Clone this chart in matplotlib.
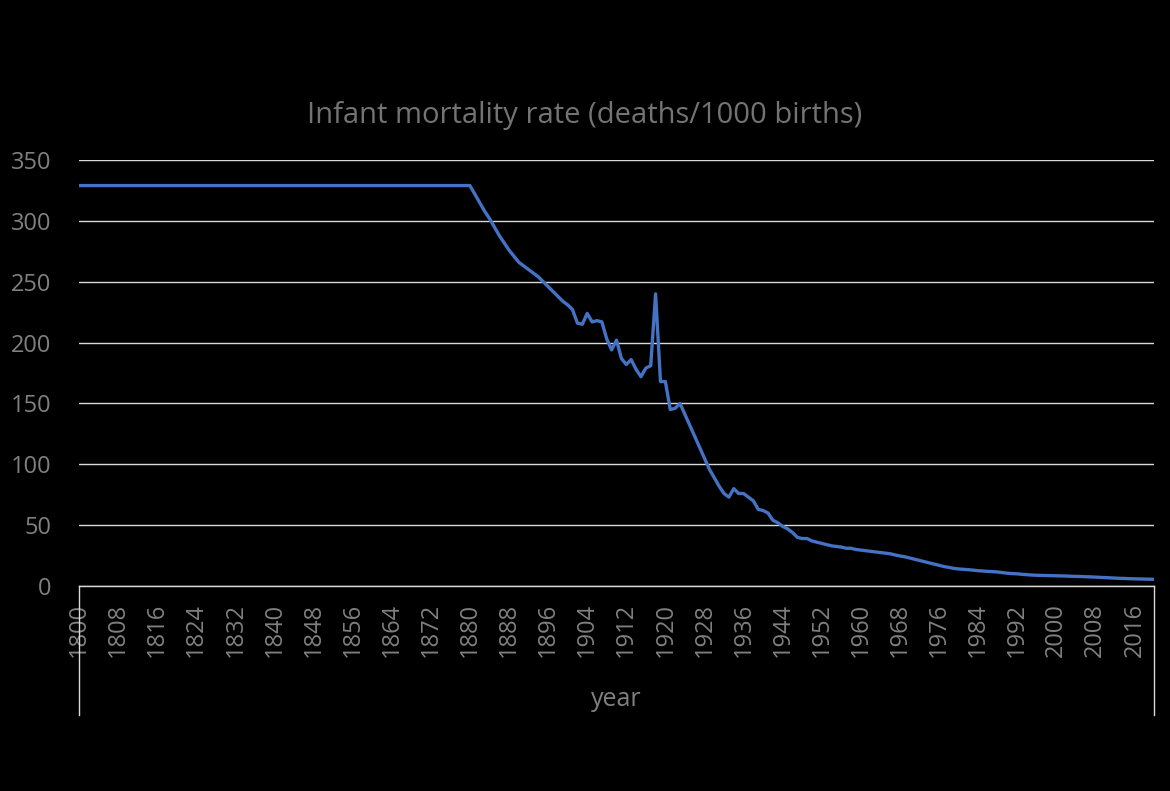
import matplotlib
matplotlib.use('Agg')
import matplotlib.pyplot as plt

# yearly infant mortality (deaths per 1000 births)
years = list(range(1800, 2021))
rate = [
    329, 329, 329, 329, 329, 329, 329, 329, 329, 329, 329, 329, 329, 329, 329, 329, 329, 329, 329, 329,  # 1800
    329, 329, 329, 329, 329, 329, 329, 329, 329, 329, 329, 329, 329, 329, 329, 329, 329, 329, 329, 329,  # 1820
    329, 329, 329, 329, 329, 329, 329, 329, 329, 329, 329, 329, 329, 329, 329, 329, 329, 329, 329, 329,  # 1840
    329, 329, 329, 329, 329, 329, 329, 329, 329, 329, 329, 329, 329, 329, 329, 329, 329, 329, 329, 329,  # 1860
    329, 322, 315, 308, 302, 295, 288, 282, 276, 271,  # 1880
    266, 263, 260, 257, 254, 250, 246, 242, 238, 234,  # 1890
    231, 227, 216, 215, 224, 217, 218, 217, 203, 194,  # 1900
    202, 187, 182, 186, 178, 172, 179, 181, 240, 168,  # 1910
    168, 145, 146, 150, 141, 132, 123, 114, 105, 96,   # 1920
    89, 82, 76, 73, 80, 76, 76, 73, 70, 63,            # 1930
    62, 60, 54, 52, 49, 47, 44, 40, 39, 39,            # 1940
    37, 36, 35, 34, 33, 32.5, 32, 31, 31, 30,          # 1950
    29.5, 29, 28.5, 28, 27.5, 27, 26.5, 25.5, 24.7, 24,  # 1960
    23, 22, 21, 20, 19, 18, 17, 16, 15.3, 14.5,        # 1970
    14, 13.7, 13.4, 13, 12.6, 12.3, 12, 11.8, 11.5, 11,  # 1980
    10.5, 10.2, 10, 9.6, 9.3, 9, 8.8, 8.7, 8.6, 8.5,   # 1990
    8.4, 8.3, 8.2, 8, 7.9, 7.8, 7.6, 7.5, 7.3, 7.1,    # 2000
    6.9, 6.7, 6.5, 6.3, 6.2, 6.0, 5.9, 5.8, 5.7, 5.6,  # 2010
    5.5,                                               # 2020
]
xticks = list(range(1800, 2017, 8))
yticks = [0, 50, 100, 150, 200, 250, 300, 350]

GRAY = '#808080'
plt.rcParams['font.family'] = ['Open Sans', 'DejaVu Sans']

fig = plt.figure(figsize=(11.7, 7.91), dpi=100, facecolor='black')
ax = fig.add_axes([79/1170, 1 - 586/791, (1154 - 79)/1170, (586 - 160)/791])
ax.set_facecolor('black')

ax.plot(years, rate, color='#4472C4', lw=2.4, solid_joinstyle='round', zorder=3)

ax.set_xlim(1800, 2020)
ax.set_ylim(0, 350)
ax.set_yticks(yticks)
ax.set_xticks(xticks)
ax.set_xticklabels([str(y) for y in xticks], rotation=90)
ax.tick_params(axis='both', length=0, labelcolor=GRAY, labelsize=17)
ax.tick_params(axis='x', pad=12)
ax.tick_params(axis='y', pad=20)
ax.grid(axis='y', color='#d9d9d9', lw=1)
ax.set_axisbelow(True)
for s in ['top', 'right', 'left']:
    ax.spines[s].set_visible(False)
ax.spines['bottom'].set_color('#d9d9d9')
ax.spines['bottom'].set_linewidth(1)

# category boundary lines below the axis
for xa in [0, 1]:
    ax.plot([xa, xa], [0, -0.303], transform=ax.transAxes, clip_on=False,
            color='#d9d9d9', lw=1)

fig.text(585/1170, 1 - 115/791, 'Infant mortality rate (deaths/1000 births)',
         color='#737373', fontsize=21, ha='center', va='center')
fig.text(616/1170, 1 - 700/791, 'year', color=GRAY, fontsize=18,
         ha='center', va='center')

fig.savefig('out.png', dpi=100, facecolor='black')
